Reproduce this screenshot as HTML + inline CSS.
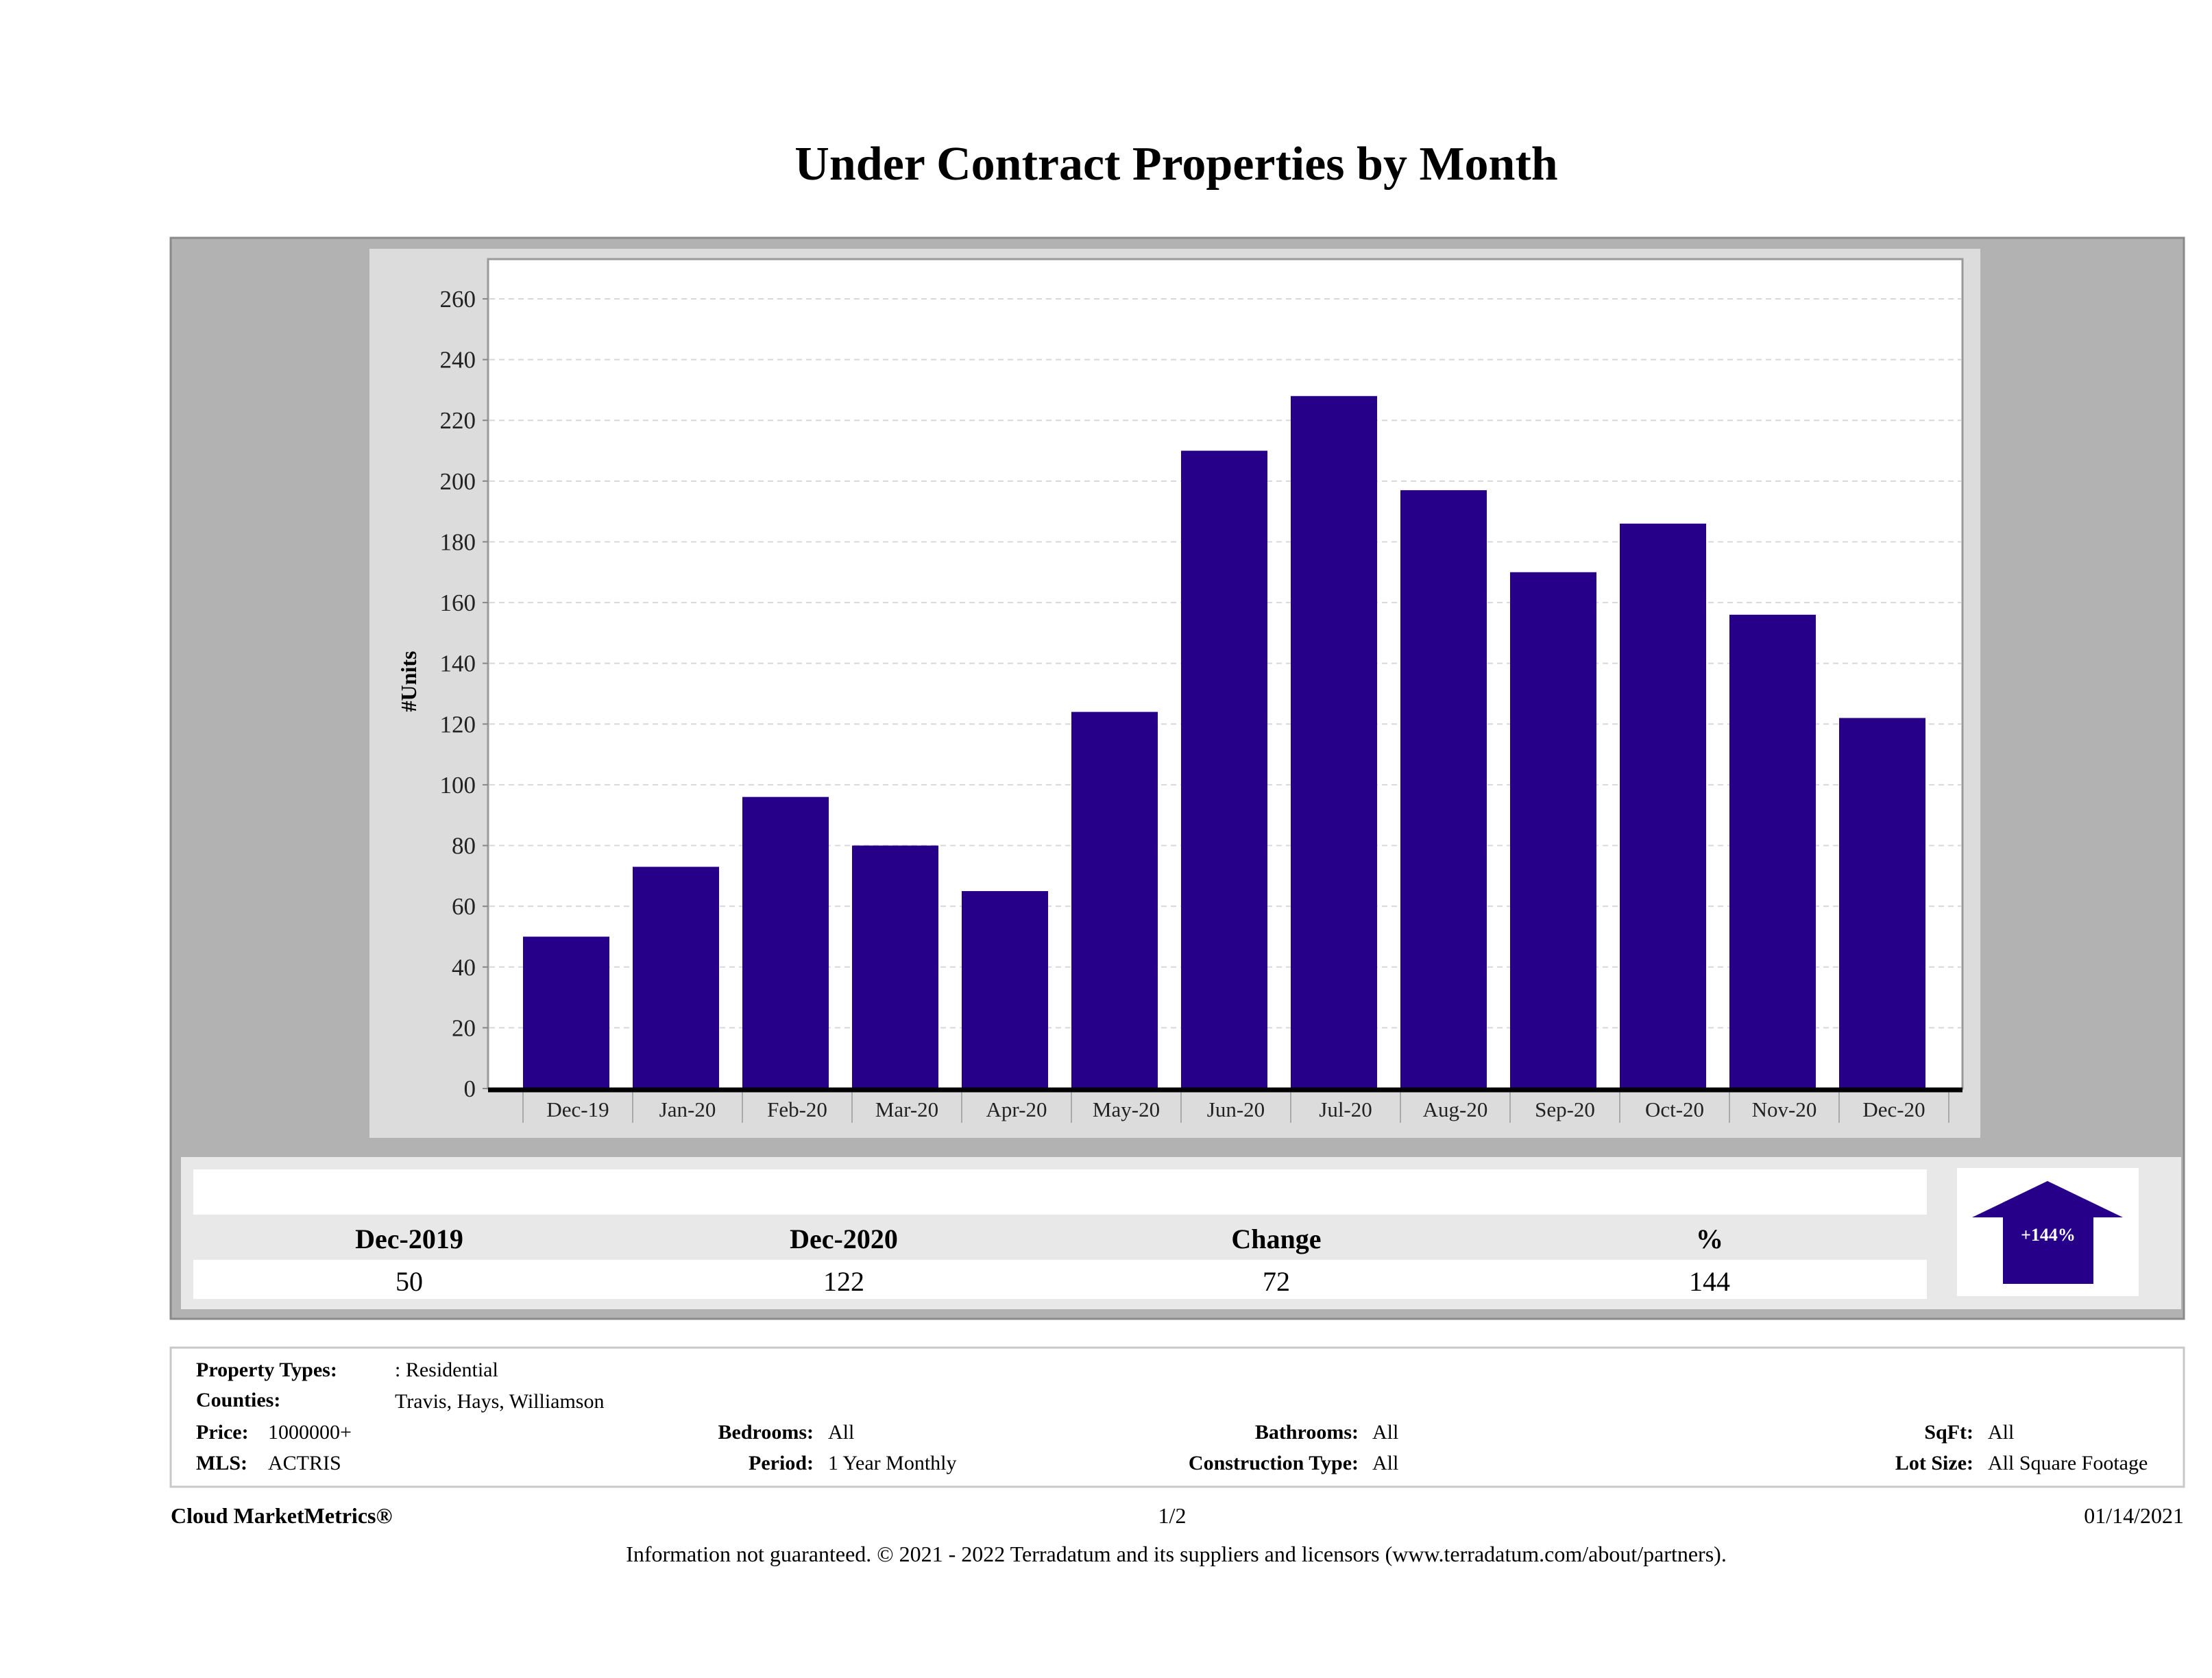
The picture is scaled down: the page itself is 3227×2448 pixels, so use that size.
<!DOCTYPE html>
<html><head><meta charset="utf-8"><style>
html,body{margin:0;padding:0;background:#fff;}
svg{display:block;font-family:"Liberation Serif",serif;}
</style></head><body>
<svg id="page" width="3227" height="2448" viewBox="0 0 3227 2448" xmlns="http://www.w3.org/2000/svg">
<text x="1716" y="262" text-anchor="middle" font-size="70" font-weight="bold" fill="#000">Under Contract Properties by Month</text>
<rect x="249" y="347" width="2937" height="1577" fill="#b2b2b2" stroke="#8a8a8a" stroke-width="3"/>
<rect x="539" y="363" width="2350" height="1297" fill="#dcdcdc"/>
<rect x="712" y="378" width="2151" height="1210" fill="#fff" stroke="#9a9a9a" stroke-width="3"/>
<g id="grid"></g>
<g id="yticks"></g>
<g id="bars"></g>
<g id="xticks"></g>
<line x1="712" y1="1590" x2="2863" y2="1590" stroke="#000" stroke-width="7"/>
<text transform="translate(607,994) rotate(-90)" text-anchor="middle" font-size="32" font-weight="bold" fill="#000">#Units</text>

<rect x="264" y="1688" width="2918" height="222" fill="#e8e8e8"/>
<rect x="282" y="1706" width="2529" height="66" fill="#fff"/>
<rect x="282" y="1838" width="2529" height="57" fill="#fff"/>
<g font-size="40" font-weight="bold" text-anchor="middle" fill="#000">
<text x="597" y="1821">Dec-2019</text>
<text x="1231" y="1821">Dec-2020</text>
<text x="1862" y="1821">Change</text>
<text x="2494" y="1821">%</text>
</g>
<g font-size="40" text-anchor="middle" fill="#000">
<text x="597" y="1883">50</text>
<text x="1231" y="1883">122</text>
<text x="1862" y="1883">72</text>
<text x="2494" y="1883">144</text>
</g>
<rect x="2855" y="1704" width="265" height="187" fill="#fff"/>
<polygon points="2987,1723 3097,1776 3054,1776 3054,1873 2922,1873 2922,1776 2877,1776" fill="#27008a"/>
<text x="2988" y="1810" text-anchor="middle" font-size="26" font-weight="bold" fill="#fff">+144%</text>

<rect x="249" y="1966" width="2937" height="203" fill="#fff" stroke="#c8c8c8" stroke-width="3"/>
<g font-size="30" fill="#000">
<text x="286" y="2008" font-weight="bold">Property Types:</text>
<text x="576" y="2008">: Residential</text>
<text x="286" y="2052" font-weight="bold">Counties:</text>
<text x="576" y="2054">Travis, Hays, Williamson</text>
<text x="286" y="2099" font-weight="bold">Price:</text>
<text x="391" y="2099">1000000+</text>
<text x="1187" y="2099" font-weight="bold" text-anchor="end">Bedrooms:</text>
<text x="1208" y="2099">All</text>
<text x="1982" y="2099" font-weight="bold" text-anchor="end">Bathrooms:</text>
<text x="2002" y="2099">All</text>
<text x="2879" y="2099" font-weight="bold" text-anchor="end">SqFt:</text>
<text x="2900" y="2099">All</text>
<text x="286" y="2144" font-weight="bold">MLS:</text>
<text x="391" y="2144">ACTRIS</text>
<text x="1187" y="2144" font-weight="bold" text-anchor="end">Period:</text>
<text x="1208" y="2144">1 Year Monthly</text>
<text x="1982" y="2144" font-weight="bold" text-anchor="end">Construction Type:</text>
<text x="2002" y="2144">All</text>
<text x="2879" y="2144" font-weight="bold" text-anchor="end">Lot Size:</text>
<text x="2900" y="2144">All Square Footage</text>
<text x="249" y="2222" font-weight="bold" font-size="32">Cloud MarketMetrics®</text>
<text x="1710" y="2222" text-anchor="middle" font-size="32">1/2</text>
<text x="3186" y="2222" text-anchor="end" font-size="32">01/14/2021</text>
<text x="1716" y="2278" text-anchor="middle" font-size="32">Information not guaranteed. © 2021 - 2022 Terradatum and its suppliers and licensors (www.terradatum.com/about/partners).</text>
</g>
</svg>
<script>
const categories = ["Dec-19","Jan-20","Feb-20","Mar-20","Apr-20","May-20","Jun-20","Jul-20","Aug-20","Sep-20","Oct-20","Nov-20","Dec-20"];
const units = [50,73,96,80,65,124,210,228,197,170,186,156,122];
const yTicks = [0,20,40,60,80,100,120,140,160,180,200,220,240,260];

const NS = "http://www.w3.org/2000/svg";
const y0 = 1588, yScale = (1588 - 436) / 260;
const xStart = 763, step = 160, barW = 126;
function yPos(v){ return y0 - v * yScale; }
function xPos(i){ return xStart + i * step; }
function mk(tag, attrs){ const e = document.createElementNS(NS, tag); for (const k in attrs) e.setAttribute(k, attrs[k]); return e; }

const grid = document.getElementById('grid'), yt = document.getElementById('yticks');
yTicks.forEach(t => {
  const y = yPos(t);
  if (t > 0) {
    const g = mk('line', {x1:714, x2:2861, y1:y, y2:y, stroke:'#d8d8d8', 'stroke-width':2, 'stroke-dasharray':'8,6'});
    
    
    grid.appendChild(g);
  }
  const tm = mk('line', {x1:704, x2:712, y1:y, y2:y, stroke:'#888', 'stroke-width':2});
  
  
  yt.appendChild(tm);
  const tx = mk('text', {x:694, y:y + 12, 'text-anchor':'end', 'font-size':35, fill:'#222'});
  tx.textContent = t;
  
  
  yt.appendChild(tx);
});

const bars = document.getElementById('bars'), xt = document.getElementById('xticks');
units.forEach((v, i) => {
  const r = mk('rect', {x:xPos(i), y:yPos(v), width:barW, height:y0 - yPos(v), fill:'#27008a'});
  
  
  bars.appendChild(r);
});
categories.forEach((c, i) => {
  const tk = mk('line', {x1:xPos(i), x2:xPos(i), y1:1593, y2:1638, stroke:'#aaa', 'stroke-width':2});
  
  
  xt.appendChild(tk);
  const tx = mk('text', {x:xPos(i) + step/2, y:1629, 'text-anchor':'middle', 'font-size':31, fill:'#222'});
  tx.textContent = c;
  
  
  xt.appendChild(tx);
});
const last = mk('line', {x1:xPos(categories.length), x2:xPos(categories.length), y1:1593, y2:1638, stroke:'#aaa', 'stroke-width':2});


xt.appendChild(last);
</script>
</body></html>
